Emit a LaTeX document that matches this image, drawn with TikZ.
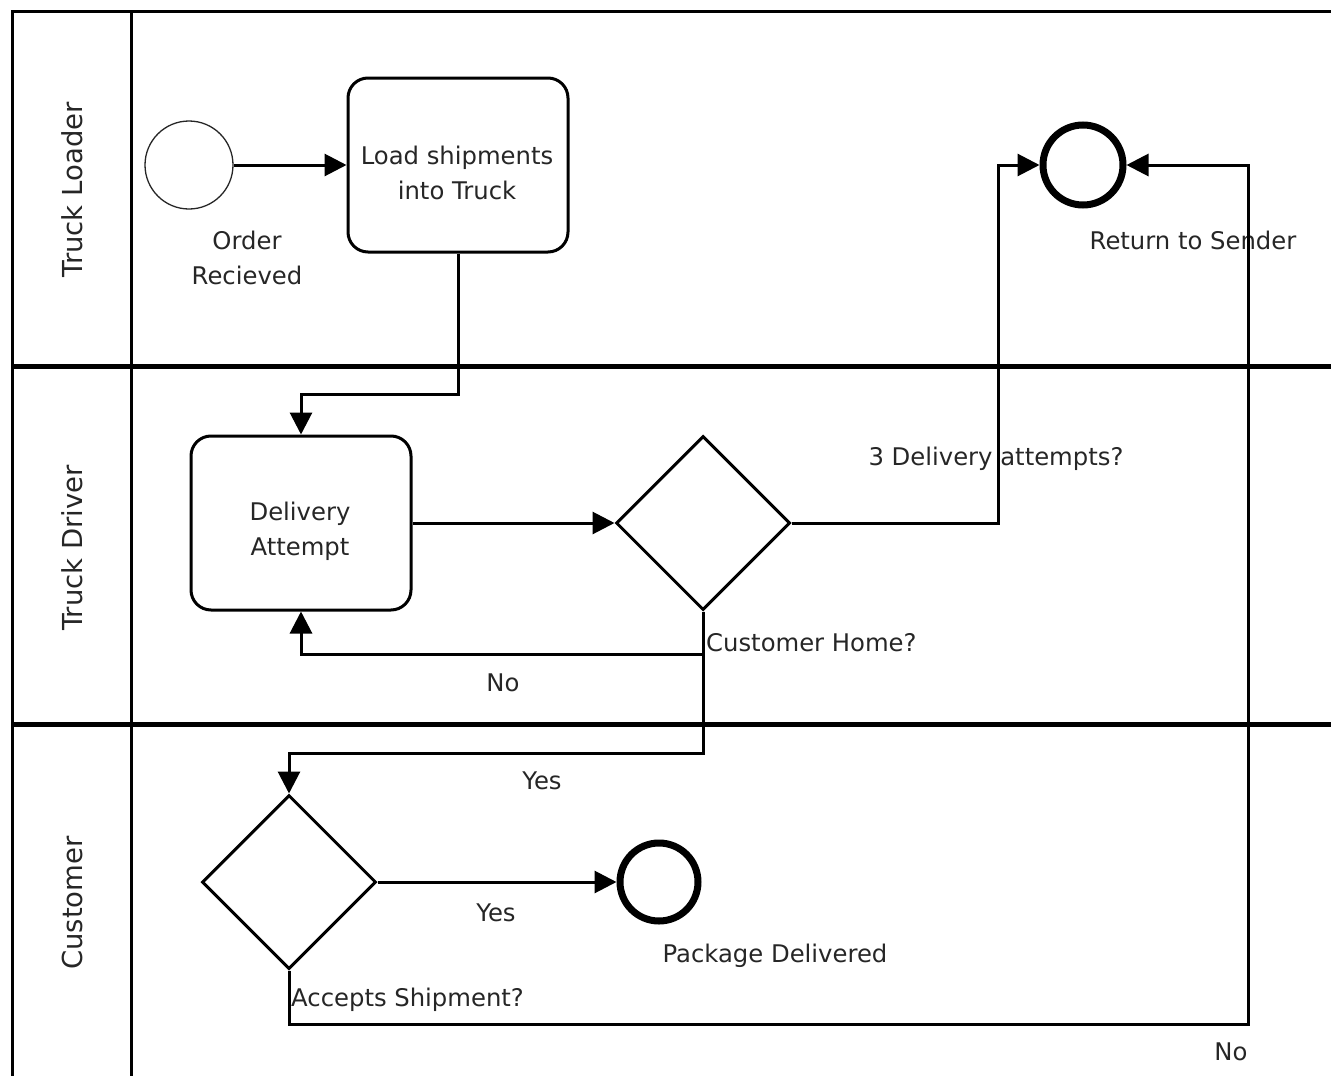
\documentclass[tikz,border=0pt]{standalone}
\usepackage{fontspec}
\setmainfont{DejaVu Sans}
\usetikzlibrary{shapes.geometric,arrows.meta}
\definecolor{txt}{RGB}{38,38,38}
\tikzset{
  lbl/.style={text=txt,font=\fontsize{24.3}{35}\selectfont,inner sep=0pt,align=center},
  lanelbl/.style={text=txt,font=\fontsize{27.5}{30}\selectfont,inner sep=0pt,rotate=90},
  task/.style={draw,line width=3pt,rounded corners=20pt,minimum width=220pt,minimum height=174pt,inner sep=0pt},
  gate/.style={draw,diamond,line width=3pt,minimum width=174pt,minimum height=174pt,inner sep=0pt,aspect=1},
  startev/.style={draw=txt,circle,line width=1.3pt,minimum size=88pt,inner sep=0pt},
  endev/.style={draw,circle,line width=7pt,minimum size=80pt,inner sep=0pt},
  flow/.style={line width=3pt,-{Triangle[length=22pt,width=22pt]}},
  poolline/.style={line width=3pt},
  laneline/.style={line width=5pt}
}
\begin{document}
\begin{tikzpicture}[x=1pt,y=-1pt]
\useasboundingbox (0,0) rectangle (1331,1076);
\clip (0,0) rectangle (1331,1076);
\fill[white] (0,0) rectangle (1331,1076);
% pool and lanes
\draw[poolline] (12,1090) -- (12,11) -- (1345,11);
\draw[poolline] (131,11) -- (131,1090);
\draw[laneline] (12,366) -- (1345,366);
\draw[laneline] (12,724) -- (1345,724);
\node[lanelbl] (l1) at (72,190) {Truck Loader};
\node[lanelbl] (l2) at (72,548) {Truck Driver};
\node[lanelbl] (l3) at (72,903) {Customer};
% nodes
\node[startev] (start) at (189,165) {};
\node[lbl] (startl) at (247,258) {Order\\Recieved};
\node[task] (load) at (458,165) {};
\node[lbl] (loadl) at (457,173) {Load shipments\\into Truck};
\node[endev] (ret) at (1083,165) {};
\node[lbl] (retl) at (1193,240) {Return to Sender};
\node[task] (da) at (301,523) {};
\node[lbl] (dal) at (300,531) {Delivery\\Attempt};
\node[gate] (gw1) at (703,523) {};
\node[lbl,anchor=west] (gw1l) at (706,643) {Customer Home?};
\node[gate] (gw2) at (289,882) {};
\node[lbl,anchor=west] (gw2l) at (291,1000) {Accepts Shipment?};
\node[endev,minimum size=78pt] (pd) at (659,882) {};
\node[lbl] (pdl) at (775,956) {Package Delivered};
% flows
\draw[flow] (start) -- (load);
\draw[flow] (load.south) -- ++(0,141) -| (da.north);
\draw[flow] (da) -- (gw1);
\draw[flow] (gw1.east) -| (998,165) -- (ret.west);
\draw[flow] (gw1.south) -- ++(0,43) -| (da.south);
\draw[flow] (gw1.south) -- ++(0,142) -| (gw2.north);
\draw[flow] (gw2) -- (pd);
\draw[flow] (gw2.south) -- ++(0,54) -| (1248,165) -- (ret.east);
% flow labels
\node[lbl] (t1) at (996,459) {3 Delivery attempts?};
\node[lbl] (t2) at (503,683) {No};
\node[lbl] (t3) at (542,781) {Yes};
\node[lbl] (t4) at (496,913) {Yes};
\node[lbl] (t5) at (1231,1052) {No};
\end{tikzpicture}
\end{document}
